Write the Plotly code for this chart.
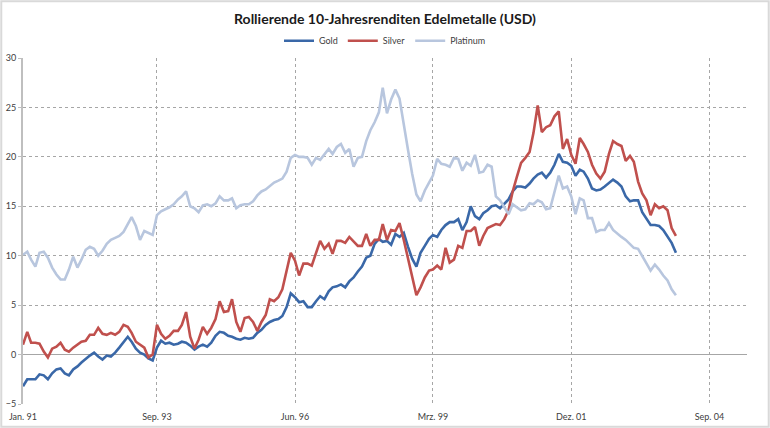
import pandas as pd
import plotly.graph_objects as go

title_text = "Rollierende 10-Jahresrenditen Edelmetalle (USD)"

# monthly observation dates (Jan 1991 .. Jan 2004)
dates = pd.date_range("1991-01-01", periods=157, freq="MS")

gold = [
    -3.2, -2.5, -2.5, -2.5, -2.0, -2.1, -2.5, -1.9, -1.5, -1.4, -1.9, -2.1, -1.5, -1.2, -0.8, -0.4, -0.1, 0.2,
    -0.2, -0.5, -0.1, -0.2, 0.2, 0.7, 1.3, 1.8, 1.3, 0.6, 0.2, 0.0, -0.4, -0.6, 0.7, 1.4, 1.1, 1.2,
    1.0, 1.1, 1.3, 1.2, 0.9, 0.5, 0.8, 1.0, 0.8, 1.2, 1.9, 2.3, 2.2, 1.9, 1.8, 1.6, 1.5, 1.7, 1.6, 1.7,
    2.2, 2.5, 3.0, 3.3, 3.5, 3.6, 3.9, 4.8, 6.2, 5.8, 5.3, 5.4, 4.8,
    4.8, 5.4, 5.9, 5.6, 6.4, 6.8, 6.9, 7.1, 6.8, 7.4, 7.8, 8.4, 8.9, 9.8, 10.0, 11.2, 11.7, 11.4, 11.5,
    11.1, 12.2, 11.9, 12.3, 10.9, 9.7, 8.9, 10.3, 11.0, 11.7, 12.1, 11.9,
    12.6, 13.1, 13.4, 13.4, 13.7, 12.6, 13.4, 15.0, 14.0, 13.7, 14.3, 14.6, 15.0, 15.1, 14.8, 15.3, 15.7,
    16.5, 17.0, 17.0, 16.9, 17.3, 17.8, 18.2, 18.4, 17.9, 18.4, 19.2, 20.3, 19.5, 19.4, 19.1, 18.1, 18.7,
    18.5, 17.8,
    16.8, 16.6, 16.7, 17.0, 17.4, 17.7, 17.4, 17.0, 16.0, 15.5, 15.6, 15.6, 14.4, 13.8, 13.1, 13.1, 13.0,
    12.6, 12.0, 11.3, 10.3,
]

silver = [
    1.0, 2.3, 1.2, 1.2, 1.1, 0.3, -0.3, 0.6, 0.8, 1.2, 0.5, 0.3, 0.7, 1.0, 1.3, 1.4, 2.0, 2.0, 2.7, 2.1,
    2.0, 2.2, 2.0, 2.3, 3.0, 2.8, 2.2, 1.3, 1.0, 0.7, -0.3, 0.0, 3.0, 2.1, 1.6, 1.9,
    2.4, 2.4, 3.0, 4.3, 1.8, 0.6, 1.5, 2.8, 2.1, 2.7, 3.6, 5.4, 4.3, 4.4, 5.6, 3.3, 2.3, 3.7, 3.8, 3.3,
    2.4, 3.3, 4.0, 5.6, 5.4, 5.8, 6.6, 8.6, 10.3, 9.5, 8.0, 9.2, 9.2,
    9.0, 10.3, 11.5, 10.7, 11.2, 10.2, 11.5, 11.5, 11.3, 11.9, 11.5, 11.0, 11.0, 12.2, 11.0, 11.6, 11.6,
    13.2, 11.6, 12.6, 12.5, 13.3, 11.6, 9.6, 8.0, 6.0, 6.8, 7.8, 8.5, 8.6, 9.0,
    8.6, 10.8, 9.3, 9.6, 11.0, 10.8, 12.5, 12.5, 12.9, 11.0, 12.0, 12.8, 13.0, 13.2, 13.1, 13.7, 14.6,
    16.5, 18.0, 19.4, 19.9, 20.5, 22.4, 25.2, 22.5, 23.0, 23.2, 24.1, 24.6, 20.8, 21.8, 20.2, 19.3, 21.9,
    21.3, 20.5,
    19.2, 18.3, 17.8, 18.5, 20.3, 21.6, 21.3, 21.1, 19.6, 20.1, 19.5, 17.5, 16.3, 15.6, 14.1, 15.2, 14.8,
    15.0, 14.6, 12.8, 12.0,
]

platinum = [
    10.1, 10.4, 9.6, 8.9, 10.3, 10.4, 9.8, 8.8, 8.1, 7.6, 7.6, 8.6, 9.9, 8.8, 9.6, 10.6, 10.9, 10.7, 10.0,
    10.5, 11.2, 11.6, 11.8, 12.0, 12.4, 13.2, 13.9, 13.0, 11.6, 12.5, 12.3, 12.1, 14.1, 14.5, 14.7, 14.9,
    15.2, 15.7, 16.0, 16.5, 15.0, 14.8, 14.4, 15.1, 15.2, 15.0, 15.3, 16.0, 15.6, 15.6, 15.8, 14.8, 15.1,
    15.2, 15.2, 15.5, 16.1, 16.5, 16.7, 17.0, 17.4, 17.6, 17.8, 18.5, 19.9, 20.2, 20.0, 20.0, 19.9,
    19.2, 19.9, 19.7, 20.3, 20.8, 20.3, 21.0, 21.3, 20.4, 20.8, 19.0, 19.9, 20.0, 21.6, 22.7, 23.5, 24.5,
    27.0, 24.4, 25.8, 26.8, 25.9, 23.1, 20.7, 18.3, 16.2, 15.5, 16.6, 17.4, 18.1, 19.8,
    19.3, 19.2, 19.0, 19.9, 19.8, 18.6, 19.4, 19.1, 20.2, 18.4, 18.5, 19.2, 19.0, 16.0, 15.6, 14.9, 14.2,
    15.2, 14.9, 14.6, 14.7, 15.3, 15.2, 15.6, 15.4, 14.7, 14.8, 16.6, 18.1, 16.8, 17.0, 16.0, 14.2, 15.8,
    15.6, 13.8,
    13.8, 12.4, 12.6, 12.6, 13.3, 12.6, 12.2, 11.9, 11.6, 11.2, 10.8, 10.7, 10.0, 9.3, 8.5, 9.1, 8.6,
    8.0, 7.5, 6.6, 6.0,
]

tick_dates = ["1991-01-01", "1993-09-01", "1996-06-01", "1999-03-01", "2001-12-01", "2004-09-01"]
tick_labels = ["Jan. 91", "Sep. 93", "Jun. 96", "Mrz. 99", "Dez. 01", "Sep. 04"]
y_ticks = [-5, 0, 5, 10, 15, 20, 25, 30]

series = [
    ("Gold", gold, "#3A68A8"),
    ("Silver", silver, "#C0504D"),
    ("Platinum", platinum, "#B8C6DE"),
]

fig = go.Figure()
for name, vals, col in series:
    fig.add_trace(go.Scatter(
        x=dates, y=vals, mode="lines", name=name,
        line=dict(color=col, width=2.6),
    ))

fig.update_layout(
    width=770, height=428,
    margin=dict(l=23, r=23, t=58, b=24, autoexpand=False),
    paper_bgcolor="white", plot_bgcolor="white",
    font=dict(family="Lato, Open Sans, sans-serif", size=9, color="#404040"),
    title=dict(text="<b>" + title_text + "</b>", x=0.5, xanchor="center",
               y=0.955, yanchor="middle",
               font=dict(family="Lato, Open Sans, sans-serif", size=14, color="#1a1a1a")),
    legend=dict(orientation="h", x=0.5, xanchor="center", y=1.05, yanchor="middle",
                font=dict(size=9, color="#404040"), bgcolor="rgba(0,0,0,0)",
                itemwidth=30, tracegroupgap=0),
    showlegend=True,
)

fig.update_xaxes(
    type="date",
    range=["1991-01-01", "2005-06-01"],
    tickvals=tick_dates, ticktext=tick_labels,
    showgrid=True, gridcolor="#a6a6a6", griddash="3px,3px", gridwidth=1,
    showline=False, zeroline=False, ticks="",
    ticklabelstandoff=6, automargin=False,
    tickfont=dict(size=9, color="#404040"),
)
fig.update_yaxes(
    range=[-5, 30], tickvals=y_ticks,
    showgrid=True, gridcolor="#a6a6a6", griddash="3px,3px", gridwidth=1,
    showline=True, linecolor="#bfbfbf", linewidth=2,
    zeroline=True, zerolinecolor="#a6a6a6", zerolinewidth=1,
    ticks="outside", ticklen=3, tickcolor="#bfbfbf", automargin=False,
    tickfont=dict(size=9, color="#404040"),
)

fig.add_shape(type="rect", xref="paper", yref="paper",
              x0=-0.03, x1=1.03, y0=-0.066, y1=1.164,
              line=dict(color="#d9d9d9", width=2), fillcolor="rgba(0,0,0,0)", layer="below")

fig.write_html("out.html", config={"displayModeBar": False},
               post_script="document.body.style.margin='0';")
